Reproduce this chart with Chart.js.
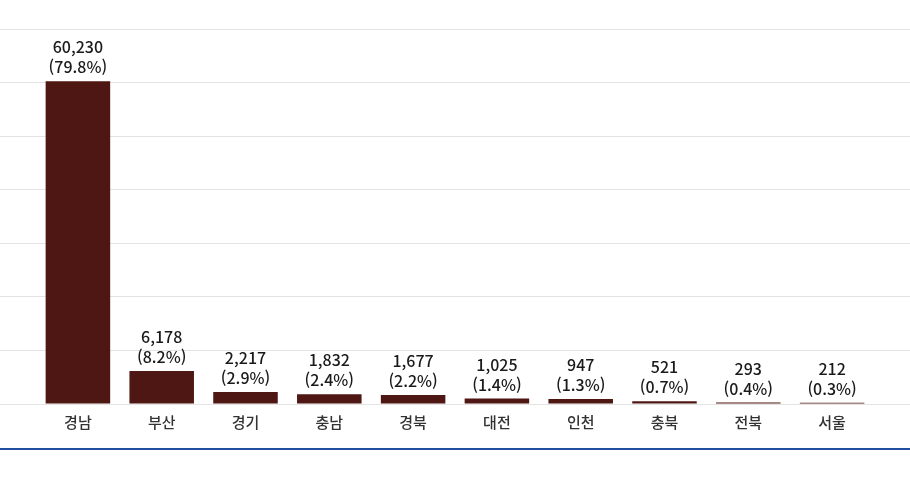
<!DOCTYPE html>
<html lang="ko">
<head>
<meta charset="utf-8">
<script src="https://cdn.jsdelivr.net/npm/chart.js@4"></script>
<style>
  html, body { margin: 0; padding: 0; background: #fff; }
  #wrap {
    width: 910px;
    height: 448px;
    border-bottom: 2px solid #1f4e9e;
    position: relative;
  }
</style>
</head>
<body>
<div id="wrap"><canvas id="chart"></canvas></div>
<script>
// regions and counts
const regions = ["경남", "부산", "경기", "충남", "경북", "대전", "인천", "충북", "전북", "서울"];
const counts = [60230, 6178, 2217, 1832, 1677, 1025, 947, 521, 293, 212];
const shares = [79.8, 8.2, 2.9, 2.4, 2.2, 1.4, 1.3, 0.7, 0.4, 0.3];

const BAR_COLOR = "#4f1713";
const GRID_COLOR = "#e3e3e3";
const FONT = "'Noto Sans CJK KR', 'Noto Sans', sans-serif";

// two-line value labels above each bar
const valueLabels = {
  id: "valueLabels",
  afterDatasetsDraw(chart) {
    const ctx = chart.ctx;
    const meta = chart.getDatasetMeta(0);
    ctx.save();
    ctx.fillStyle = "#1a1a1a";
    ctx.font = "500 16px " + FONT;
    ctx.textAlign = "center";
    ctx.textBaseline = "middle";
    meta.data.forEach((bar, i) => {
      const mid = bar.y - 14;
      ctx.fillText("(" + shares[i].toFixed(1) + "%)", bar.x, mid);
      ctx.fillText(counts[i].toLocaleString("en-US"), bar.x, mid - 20);
    });
    ctx.restore();
  },
};

const yAxis = (position) => ({
  position: position,
  min: 0,
  max: 70000,
  ticks: { display: false, stepSize: 10000 },
  border: { display: false },
  grid: { color: GRID_COLOR, lineWidth: 1, tickLength: 36, drawTicks: true },
});

new Chart(document.getElementById("chart"), {
  type: "bar",
  data: {
    labels: regions,
    datasets: [
      {
        data: counts,
        backgroundColor: BAR_COLOR,
        barPercentage: 0.77,
        categoryPercentage: 1,
        minBarLength: 1,
      },
    ],
  },
  options: {
    responsive: true,
    maintainAspectRatio: false,
    animation: false,
    layout: { padding: { top: 29, bottom: 8, left: 0, right: 0 } },
    plugins: {
      legend: { display: false },
      tooltip: { enabled: false },
    },
    scales: {
      x: {
        grid: { display: false, drawTicks: false },
        border: { display: false },
        ticks: {
          color: "#333",
          padding: 9,
          font: { family: FONT, size: 15, weight: 500 },
        },
      },
      y: yAxis("left"),
      y2: yAxis("right"),
    },
  },
  plugins: [valueLabels],
});
</script>
</body>
</html>
